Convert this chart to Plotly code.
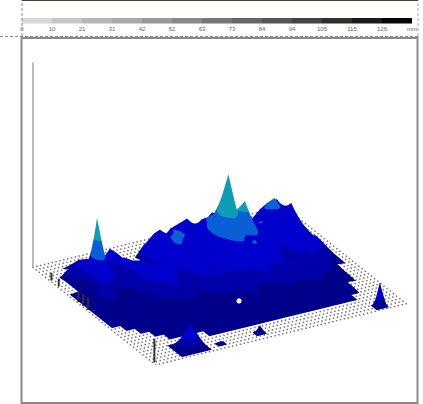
import numpy as np
import plotly.graph_objects as go

W, H = 423, 404
n = np.nan
# relief heights: rows run back-left edge -> front-right edge, columns left -> right
relief = [
 [n,n,n,n,n,n,n,n,n,n,n,n,n,n,n,n,n,n,n,n,n,n,n,n,n,n,n,n,n,n,n],
 [n,n,n,n,n,n,n,n,n,n,n,n,n,n,n,n,n,n,n,n,n,n,n,n,n,n,n,n,n,n,n],
 [n,n,4,6,9,8,6,n,n,n,n,4,9,17,10,18,21,24,14,17,24,14,8,4,6,n,n,n,n,n,n],
 [n,2,9,12,13,9,9,19,12,n,4,14,20,26,18,15,24,17,26,27,26,18,9,7,14,22,27,28,15,4,n],
 [n,3,8,11,20,15,6,15,13,8,6,17,28,21,29,24,17,20,28,36,30,30,14,9,18,30,36,22,27,7,n],
 [n,3,5,7,66,22,6,10,15,9,8,13,18,30,32,24,18,24,38,58,38,36,24,12,19,21,22,27,18,5,n],
 [2,3,4,6,26,12,8,7,14,17,10,12,22,32,24,18,15,24,46,84,46,53,27,29,20,18,15,21,12,4,n],
 [2,4,5,7,9,6,8,10,13,20,14,9,14,22,16,14,13,21,32,46,32,40,24,20,14,12,15,17,9,4,n],
 [2,4,6,8,6,4,6,9,11,14,21,12,9,12,15,11,17,20,24,32,22,27,17,13,10,15,11,13,14,4,n],
 [2,3,4,6,5,3,5,7,10,10,13,10,8,11,13,10,12,15,18,20,31,15,15,11,9,12,14,17,10,3,n],
 [2,3,5,5,3,4,3,5,7,9,11,8,7,8,9,12,10,10,13,12,15,11,14,9,11,9,12,9,6,3,n],
 [2,4,4,3,4,2,4,4,6,6,8,7,5,8,7,9,11,8,8,10,12,9,9,12,8,9,10,8,5,3,n],
 [2,3,2,3,3,3,2,4,5,4,6,5,5,5,7,6,8,8,6,7,8,9,7,8,11,7,8,6,4,3,n],
 [2,2,2,2,3,2,3,3,4,3,4,4,5,4,5,5,5,7,5,5,6,7,6,6,8,6,5,5,3,n,n],
 [n,2,2,2,2,2,3,2,3,3,3,3,4,3,4,4,4,4,5,4,4,5,4,5,6,5,4,4,3,n,n],
 [n,n,2,2,2,2,2,3,2,3,3,3,3,3,3,4,3,3,4,3,4,4,4,4,5,4,4,3,2,n,n],
 [n,n,n,2,2,2,2,2,2,2,3,2,3,3,3,3,3,3,3,3,3,4,3,4,4,3,3,3,n,n,n],
 [n,n,n,n,2,2,2,2,2,2,2,2,2,2,2,3,2,3,3,3,3,3,3,3,3,3,2,2,n,n,n],
 [n,n,n,n,n,n,n,n,2,2,2,2,2,2,2,2,2,2,2,2,2,2,2,2,2,2,2,n,n,n,n],
 [n,n,n,n,n,n,n,n,n,n,n,n,n,n,n,n,n,n,n,n,n,n,n,n,n,n,n,n,n,n,n],
 [n,n,n,n,n,n,n,n,n,n,n,n,n,n,n,n,n,n,n,n,n,n,n,n,n,n,n,n,n,n,n],
]
# isolated cones: position across (u), position along (v), height, footprint
island_u = [0.97, 0.93, 0.95, 0.96]
island_v = [0.91, 0.17, 0.44, 0.28]
island_h = [24, 24, 8, 3]
island_r = [0.025, 0.06, 0.02, 0.018]
# thin grey spikes on the front-left edge
spike_u = [0.14, 0.20, 0.36, 0.40, 0.44, 0.98]
spike_v = [0.005, 0.005, 0.005, 0.005, 0.005, 0.005]
spike_h = [8, 8, 10, 12, 12, 24]
# small gap in the relief
gap_u = [0.72]
gap_v = [0.47]
gap_h = [8]

legend_ticks = ["0","10","21","31","42","52","63","73","84","94","105","115","126","mm"]
legend_greys = ["#d6d6d6","#c6c6c6","#b6b6b6","#a8a8a8","#989898","#888888","#767676","#666666",
                "#545454","#444444","#303030","#1c1c1c","#060606"]
band_colors = ["#00008a","#0000a8","#0000cc","#0a5fd6","#0f9cb4"]
band_edges = [0, 6, 11, 28, 45, 90]

ZMAX = 206
rows = len(relief); cols = len(relief[0])
uu = np.linspace(0, 1, rows); vv = np.linspace(0, 1, cols)
Z = np.array(relief, float)

scale = []
for k, c in enumerate(band_colors):
    scale += [[band_edges[k]/90, c], [band_edges[k+1]/90, c]]

surf = dict(colorscale=scale, cmin=0, cmax=90, showscale=False, hoverinfo="skip",
            lighting=dict(ambient=1, diffuse=0, specular=0, fresnel=0, roughness=1))

fig = go.Figure()
fig.add_trace(go.Surface(x=vv, y=1-uu, z=Z, surfacecolor=Z, **surf))
for u, v, h, r in zip(island_u, island_v, island_h, island_r):
    zz = np.array([[0,0,0],[0,h,0],[0,0,0]], float)
    fig.add_trace(go.Surface(x=[v-r, v, v+r], y=[1-u-r, 1-u, 1-u+r], z=zz, surfacecolor=zz, **surf))

# floor dots
gu, gv = np.meshgrid(np.linspace(0, 1, 40), np.linspace(0, 1, 66))
fig.add_trace(go.Scatter3d(x=gv.ravel(), y=1-gu.ravel(), z=np.zeros(gu.size), mode="markers",
                           marker=dict(size=1, color="#777777"), hoverinfo="skip"))
fig.add_trace(go.Scatter3d(x=gap_v, y=[1-u for u in gap_u], z=gap_h, mode="markers",
                           marker=dict(size=3, color="white"), hoverinfo="skip"))
# height axis
fig.add_trace(go.Scatter3d(x=[0,0], y=[1,1], z=[0,ZMAX], mode="lines",
                           line=dict(color="#777777", width=2), hoverinfo="skip"))
for u, v, h in zip(spike_u, spike_v, spike_h):
    fig.add_trace(go.Scatter3d(x=[v,v], y=[1-u,1-u], z=[0,h], mode="lines",
                               line=dict(color="#333333", width=4), hoverinfo="skip"))

hidden = dict(visible=False, showgrid=False, zeroline=False, showticklabels=False, title="")
fig.update_layout(
    width=W, height=H, margin=dict(l=0, r=0, t=0, b=0, autoexpand=False), showlegend=False,
    paper_bgcolor="white", plot_bgcolor="white",
    scene=dict(
        domain=dict(x=[16/W, 1], y=[1-365/H, 1-1/H]),
        xaxis=dict(hidden, range=[0, 1]), yaxis=dict(hidden, range=[0, 1]),
        zaxis=dict(hidden, range=[0, ZMAX]),
        aspectmode="manual", aspectratio=dict(x=1.573, y=1.39, z=1.255),
        camera=dict(eye=dict(x=-0.435, y=-0.785, z=0.441), up=dict(x=0, y=0, z=1),
                    center=dict(x=0, y=0, z=0), projection=dict(type="orthographic")),
        bgcolor="rgba(0,0,0,0)",
    ),
    xaxis=dict(domain=[22/W, 412/W], range=[0, 136.5], tickmode="array", automargin=False,
               tickvals=[i*10.5 for i in range(14)], ticktext=legend_ticks,
               tickfont=dict(size=6, color="#666666", family="Liberation Sans"),
               ticks="", showgrid=False, zeroline=False, showline=False, ticklen=0, fixedrange=True),
    yaxis=dict(domain=[1-23.5/H, 1-17.5/H], range=[0, 1], visible=False, fixedrange=True),
    bargap=0,
    shapes=[
        dict(type="rect", xref="paper", yref="paper", layer="above",
             x0=21.5/W, x1=417.5/W, y0=1-403/H, y1=1-38/H, line=dict(color="#8a8a8a", width=2)),
        dict(type="line", xref="paper", yref="paper", layer="above",
             x0=0, x1=418/W, y0=1-36.5/H, y1=1-36.5/H, line=dict(color="#888888", width=1, dash="3px,2px")),
        dict(type="line", xref="paper", yref="paper", layer="above",
             x0=22/W, x1=22/W, y0=1-36/H, y1=1, line=dict(color="#888888", width=1, dash="3px,2px")),
        dict(type="line", xref="paper", yref="paper", layer="above",
             x0=418/W, x1=418/W, y0=1-36/H, y1=1, line=dict(color="#aaaaaa", width=1, dash="3px,2px")),
        dict(type="rect", xref="paper", yref="paper", layer="above", x0=22/W, x1=418/W, y0=1-1/H, y1=1,
             fillcolor="#4a4030", line=dict(width=0)),
    ],
)
fig.add_trace(go.Bar(y=[0.5]*13, x=[10.5]*13, base=[i*10.5 for i in range(13)], orientation="h",
                     width=1, marker=dict(color=legend_greys, line=dict(width=0)), hoverinfo="skip"))
fig.write_html("out.html", config=dict(displayModeBar=False),
               post_script="document.body.style.margin='0';document.body.style.overflow='hidden';")
